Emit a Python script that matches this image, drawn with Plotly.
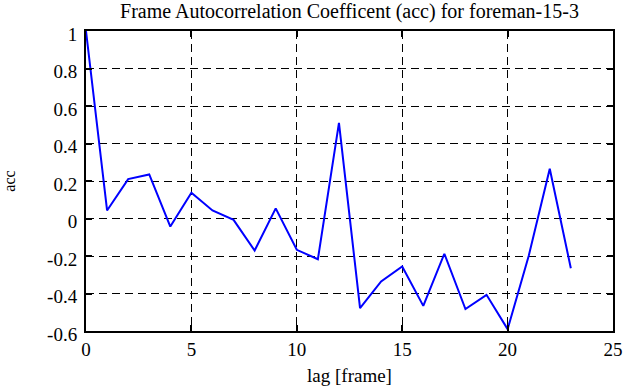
import plotly.graph_objects as go

lags = list(range(24))
acc = [1.0, 0.043, 0.21, 0.235, -0.043, 0.137, 0.043, -0.007, -0.171, 0.054,
       -0.167, -0.217, 0.51, -0.478, -0.336, -0.256, -0.466, -0.188, -0.483,
       -0.407, -0.59, -0.2, 0.265, -0.265]

x_ticks = [0, 5, 10, 15, 20, 25]
y_ticks = [-0.6, -0.4, -0.2, 0, 0.2, 0.4, 0.6, 0.8, 1]
y_tick_text = ["-0.6", "-0.4", "-0.2", "0", "0.2", "0.4", "0.6", "0.8", "1"]

font = "Liberation Serif"

fig = go.Figure()
fig.add_trace(go.Scatter(x=lags, y=acc, mode="lines",
                         line=dict(color="#0000FF", width=2), showlegend=False,
                         cliponaxis=False))

axis_common = dict(showline=True, linecolor="black", linewidth=2, mirror="allticks",
                   ticks="inside", ticklen=6, tickcolor="black", tickwidth=1.5,
                   showgrid=True, gridcolor="black", griddash="8px,5px", gridwidth=1,
                   zeroline=False, layer="above traces",
                   tickfont=dict(family=font, size=19, color="black"))

fig.update_xaxes(range=[0, 25], tickvals=x_ticks, **axis_common,
                 title=dict(text="lag [frame]", font=dict(family=font, size=19, color="black"), standoff=10))
fig.update_yaxes(range=[-0.6, 1], tickvals=y_ticks, ticktext=y_tick_text, **axis_common,
                 ticklabelstandoff=3, ticklabelshift=3,
                 title=dict(text="acc", font=dict(family=font, size=16, color="black"), standoff=28))

fig.update_layout(
    width=635, height=387,
    margin=dict(l=86, r=22, t=31, b=56, autoexpand=False),
    paper_bgcolor="white", plot_bgcolor="white",
    title=dict(text="Frame Autocorrelation Coefficent (acc) for foreman-15-3",
               font=dict(family=font, size=20, color="black"),
               x=0.5, xanchor="center", xref="paper", y=1, yref="paper", yanchor="bottom",
               pad=dict(b=13)),
)

fig.write_html("out.html", config={"displayModeBar": False})

with open("out.html", "r", encoding="utf-8") as f:
    html = f.read()
html = html.replace("<head>", "<head><style>html,body{margin:0;padding:0;overflow:hidden;}</style>", 1)
with open("out.html", "w", encoding="utf-8") as f:
    f.write(html)
